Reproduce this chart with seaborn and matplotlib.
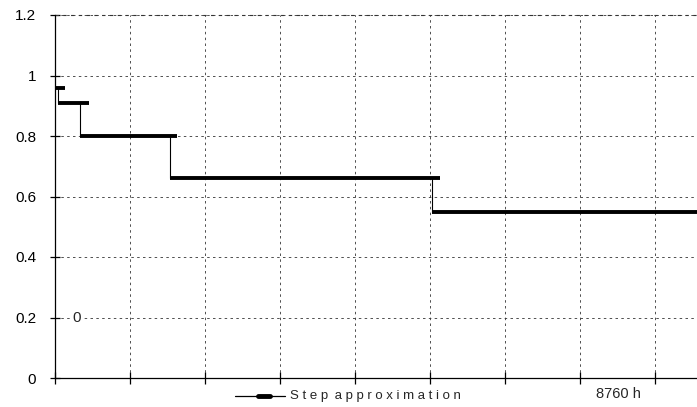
import pandas as pd
import matplotlib.pyplot as plt
from matplotlib.lines import Line2D
import seaborn as sns

sns.set_style("white")
plt.rcParams['font.family'] = ['Liberation Sans', 'DejaVu Sans']

# step approximation (hours, per-unit level)
step_levels = [0.96, 0.91, 0.80, 0.66, 0.55]
step_start = [0, 40, 330, 1530, 5030]
step_end = [130, 450, 1630, 5130, 8560]
y_ticks = [0, 0.2, 0.4, 0.6, 0.8, 1.0, 1.2]
y_labels = ['0', '0.2', '0.4', '0.6', '0.8', '1', '1.2']
x_grid = [0, 1000, 2000, 3000, 4000, 5000, 6000, 7000, 8000]

rows = []
for i, lev in enumerate(step_levels):
    rows.append({'x': step_start[i], 'y': lev, 'seg': i})
    rows.append({'x': step_end[i], 'y': lev, 'seg': i})
flat = pd.DataFrame(rows)

vrows = []
for i in range(1, len(step_levels)):
    vrows.append({'x': step_start[i], 'y': step_levels[i - 1], 'seg': i})
    vrows.append({'x': step_start[i], 'y': step_levels[i], 'seg': i})
drops = pd.DataFrame(vrows)

fig = plt.figure(figsize=(6.97, 4.07), dpi=100)
ax = fig.add_axes([55 / 697, 29 / 407, 1 - 55 / 697, 363 / 407])

sns.lineplot(data=drops, x='x', y='y', units='seg', estimator=None,
             color='black', lw=0.8, ax=ax)
sns.lineplot(data=flat, x='x', y='y', units='seg', estimator=None,
             color='black', lw=2.8, solid_capstyle='butt', ax=ax)

ax.set_xlim(0, 8560)
ax.set_ylim(0, 1.2)
ax.set_yticks(y_ticks)
ax.set_yticklabels(y_labels, fontsize=11)
ax.set_xticks(x_grid)
ax.set_xticklabels([])
ax.tick_params(axis='y', left=True, direction='inout', length=7, width=0.9, pad=10, colors='black')
ax.tick_params(axis='x', bottom=True, direction='inout', length=9, width=0.9, colors='black')
ax.set_xlabel('')
ax.set_ylabel('')

ax.grid(True, color='#333333', linestyle=(0, (3, 4)), linewidth=0.6)
# top gridline at 1.2 sits on the axes edge
ax.axhline(1.2, color='#333333', linestyle=(0, (3, 4)), linewidth=0.8, clip_on=False)
for s in ['top', 'right']:
    ax.spines[s].set_visible(False)
for s in ['left', 'bottom']:
    ax.spines[s].set_color('black')
    ax.spines[s].set_linewidth(0.9)

ax.text(290, 0.2, '0', fontsize=11, ha='center', va='center',
        bbox=dict(facecolor='white', edgecolor='none', pad=0.5))

# legend at bottom
fig.add_artist(Line2D([235 / 697, 285 / 697], [11 / 407, 11 / 407],
                      transform=fig.transFigure, color='black', lw=0.9))
fig.add_artist(Line2D([258 / 697, 270 / 697], [11 / 407, 11 / 407],
                      transform=fig.transFigure, color='black', lw=3.5))
fig.text(290 / 697, 11 / 407, 'S t e p  a p p r o x i m a t i o n'.replace('  ', '\u2002'),
         fontsize=9.5, va='center', ha='left')
fig.text(618 / 697, 13 / 407, '8760 h', fontsize=10.5, va='center', ha='center')

plt.savefig('out.png', dpi=100)
plt.close()
